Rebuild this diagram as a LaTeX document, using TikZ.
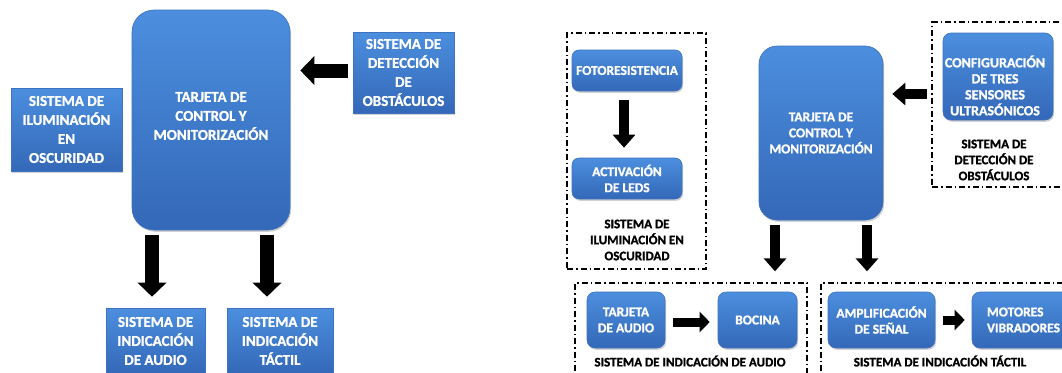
\documentclass[tikz,border=0pt]{standalone}
\usepackage{fontspec}
\setmainfont{Carlito}[BoldFeatures={FakeBold=1.2}]
\usetikzlibrary{arrows.meta,shadows,calc}
\definecolor{boxtop}{RGB}{76,142,222}
\definecolor{boxbot}{RGB}{52,104,184}
\definecolor{boxline}{RGB}{62,114,192}
\tikzset{
  bluebox/.style={draw=boxline, line width=0.6pt, top color=boxtop, bottom color=boxbot,
    text=white, align=center, inner sep=2pt,
    drop shadow={shadow xshift=1.2pt, shadow yshift=-1.8pt, opacity=0.35}},
  bigfont/.style={font=\fontsize{15}{19}\selectfont\bfseries},
  smallfont/.style={font=\fontsize{13.5}{16}\selectfont\bfseries},
  conffont/.style={font=\fontsize{14}{16}\selectfont\bfseries},
  lblfont/.style={font=\fontsize{13}{16}\selectfont\bfseries, text=black, align=center},
  groupbox/.style={draw=black, line width=1.3pt, dash pattern=on 6pt off 3pt on 1.5pt off 3pt, inner sep=0pt},
  bigarrow/.style={line width=14pt, -{Triangle[width=28pt,length=14pt]}},
  midarrow/.style={line width=10pt, -{Triangle[width=22pt,length=13pt]}},
  smallarrow/.style={line width=9pt, -{Triangle[width=20pt,length=10pt]}}
}
\begin{document}
\begin{tikzpicture}[x=1pt,y=-1pt]
\useasboundingbox (0,0) rectangle (1062,372);
\fill[white] (0,0) rectangle (1062,372);

% ---------- left diagram ----------
\node[bluebox, bigfont, minimum width=158pt, minimum height=220pt, rounded corners=22pt] (ctrlA) at (211,120) {};
\node[bigfont, text=white, align=center] (ctrlAtxt) at (211,116) {TARJETA DE\\CONTROL Y\\MONITORIZACIÓN};
\node[bluebox, bigfont, minimum width=111pt, minimum height=83pt] (ilumA) at (66.5,129.5) {SISTEMA DE\\ILUMINACIÓN\\EN\\OSCURIDAD};
\node[bluebox, bigfont, minimum width=101pt, minimum height=81pt] (detA) at (403.5,72.5) {SISTEMA DE\\DETECCIÓN\\DE\\OBSTÁCULOS};
\node[bluebox, bigfont, minimum width=99pt, minimum height=66pt] (audA) at (155.5,341) {SISTEMA DE\\INDICACIÓN\\DE AUDIO};
\node[bluebox, bigfont, minimum width=106pt, minimum height=66pt] (tacA) at (280,341) {SISTEMA DE\\INDICACIÓN\\TÁCTIL};

\draw[bigarrow, shorten <=5pt, shorten >=10pt] ([yshift=2pt]detA.west) -- ([yshift=2pt]detA.west -| ctrlA.east);
\coordinate (a1) at ([xshift=-59pt]ctrlA.south);
\coordinate (a2) at ([xshift=56pt]ctrlA.south);
\draw[bigarrow, shorten <=5pt, shorten >=11pt] (a1) -- (a1 |- audA.north);
\draw[bigarrow, shorten <=5pt, shorten >=11pt] (a2) -- (a2 |- tacA.north);

% ---------- right diagram ----------
\node[groupbox, minimum width=139pt, minimum height=236pt] (gilum) at (636.5,151) {};
\node[groupbox, minimum width=143pt, minimum height=165pt] (gdet) at (1003.5,104.5) {};
\node[groupbox, minimum width=232pt, minimum height=102pt] (gaud) at (691,334) {};
\node[groupbox, minimum width=259pt, minimum height=102pt] (gtac) at (950.5,334) {};

\node[bluebox, smallfont, minimum width=110pt, minimum height=41pt, rounded corners=7pt] (foto) at (627,70.5) {FOTORESISTENCIA};
\node[bluebox, smallfont, minimum width=110pt, minimum height=41pt, rounded corners=7pt] (leds) at (627,178.5) {ACTIVACIÓN\\DE LEDS};
\node[lblfont] (lilum) at (637,240) {SISTEMA DE\\ILUMINACIÓN EN\\OSCURIDAD};

\node[bluebox, smallfont, minimum width=124pt, minimum height=174pt, rounded corners=18pt] (ctrlB) at (821,133) {TARJETA DE\\CONTROL Y\\MONITORIZACIÓN};

\node[bluebox, minimum width=110pt, minimum height=87pt, rounded corners=8pt] (conf) at (998,76.5) {};
\node[conffont, text=white, align=center] (conftxt) at ($(conf.center)+(-3,9)$) {CONFIGURACIÓN\\DE TRES\\SENSORES\\ULTRASÓNICOS};
\node[lblfont] (ldet) at (994,160) {SISTEMA DE\\DETECCIÓN DE\\OBSTÁCULOS};

\node[bluebox, smallfont, minimum width=78pt, minimum height=56pt, rounded corners=8pt] (tarj) at (626,320) {TARJETA\\DE AUDIO};
\node[bluebox, smallfont, minimum width=79pt, minimum height=56pt, rounded corners=8pt] (boc) at (757.5,320) {BOCINA};
\node[lblfont] (laud) at (690,361) {SISTEMA DE INDICACIÓN DE AUDIO};

\node[bluebox, smallfont, minimum width=107pt, minimum height=56pt, rounded corners=8pt] (amp) at (881.5,320) {AMPLIFICACIÓN\\DE SEÑAL};
\node[bluebox, smallfont, minimum width=103pt, minimum height=56pt, rounded corners=8pt, align=left] (mot) at (1023.5,320) {MOTORES\\VIBRADORES};
\node[lblfont] (ltac) at (940,361) {SISTEMA DE INDICACIÓN TÁCTIL};

\draw[midarrow, shorten <=9pt, shorten >=10pt] ([xshift=-3pt]foto.south) -- ([xshift=-3pt]leds.north);
\coordinate (c1) at ([yshift=-17.5pt]conf.west);
\draw[midarrow, shorten <=16pt, shorten >=9pt] (c1) -- (c1 -| ctrlB.east);
\coordinate (b1) at ([xshift=-46pt]ctrlB.south);
\coordinate (b2) at ([xshift=46pt]ctrlB.south);
\draw[midarrow, shorten <=5pt, shorten >=11pt] (b1) -- (b1 |- gaud.north);
\draw[midarrow, shorten <=5pt, shorten >=11pt] (b2) -- (b2 |- gtac.north);
\draw[smallarrow, shorten <=8pt, shorten >=8pt] ([yshift=-2pt]tarj.east) -- ([yshift=-2pt]tarj.east -| boc.west);
\draw[smallarrow, shorten <=8pt, shorten >=7pt] (amp.east) -- (mot.west);
\end{tikzpicture}
\end{document}
